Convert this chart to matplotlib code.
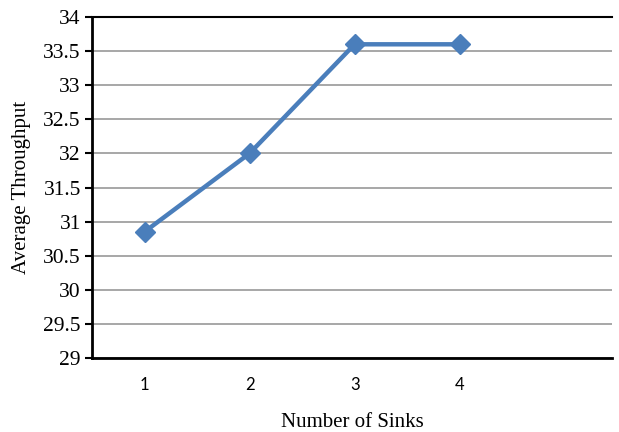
import matplotlib.pyplot as plt

sinks = [1, 2, 3, 4]
throughput = [30.85, 32.0, 33.6, 33.6]
y_ticks = [29, 29.5, 30, 30.5, 31, 31.5, 32, 32.5, 33, 33.5, 34]
y_labels = ['29', '29.5', '30', '30.5', '31', '31.5', '32', '32.5', '33', '33.5', '34']

fig = plt.figure(figsize=(6.19, 4.32), dpi=100)
ax = fig.add_axes([0.1486, 0.1713, 0.8401, 0.7893])

ax.plot(sinks, throughput, color='#4A7EBB', linewidth=3.2, marker='D',
        markersize=10, markerfacecolor='#4A7EBB', markeredgecolor='#4A7EBB', zorder=3)

ax.set_xlim(0.5, 5.45)
ax.set_ylim(29, 34)
ax.set_yticks(y_ticks)
ax.set_yticklabels(y_labels, fontfamily='Liberation Serif', fontsize=15.5)
ax.set_xticks(sinks)
ax.set_xticklabels([str(s) for s in sinks], fontfamily='Lato', fontsize=12)
ax.tick_params(axis='x', length=0, pad=14)
ax.tick_params(axis='y', length=5, width=1.5, direction='out', pad=3)

ax.grid(axis='y', color='#A0A0A0', linewidth=1.3)
ax.set_axisbelow(True)

for s in ['left', 'bottom']:
    ax.spines[s].set_linewidth(2)
    ax.spines[s].set_color('black')
ax.spines['top'].set_linewidth(1.5)
ax.spines['top'].set_color('black')
ax.spines['right'].set_visible(False)

ax.set_xlabel('Number of Sinks', fontfamily='Liberation Serif', fontsize=15, labelpad=14)
ax.set_ylabel('Average Throughput', fontfamily='Liberation Serif', fontsize=15, labelpad=9)

fig.savefig('out.png', dpi=100)
